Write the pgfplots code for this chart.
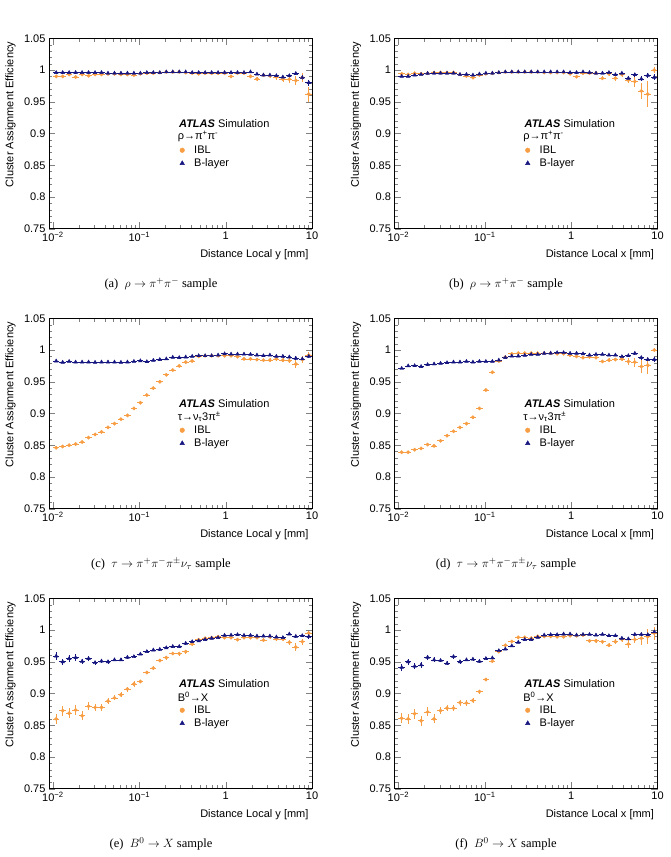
\documentclass[border=0pt]{standalone}
\usepackage{pgfplots}
\pgfplotsset{compat=1.18}
\usepackage{pgfplotstable}
\usepackage{fontspec}
\setmainfont{Liberation Serif}
\setsansfont{Liberation Sans}
\newcommand\axfont{\sffamily\fontsize{11}{13}\selectfont}
\definecolor{iblc}{RGB}{247,158,68}
\definecolor{blayc}{RGB}{22,22,128}

\pgfplotstableread{
x a ea b eb
0.01090 0.990 0.002 0.996 0.0012
0.01296 0.990 0.002 0.996 0.0012
0.01540 0.993 0.002 0.996 0.0012
0.01830 0.989 0.002 0.996 0.0012
0.02175 0.993 0.0015 0.996 0.0012
0.02585 0.991 0.0015 0.996 0.0012
0.03073 0.993 0.0015 0.996 0.0012
0.03652 0.993 0.0015 0.996 0.0012
0.04340 0.994 0.0015 0.995 0.0012
0.05158 0.994 0.0015 0.995 0.0012
0.06131 0.993 0.0015 0.995 0.0012
0.07286 0.993 0.0015 0.995 0.0012
0.08660 0.992 0.0015 0.995 0.0012
0.1029 0.994 0.0015 0.995 0.0012
0.1223 0.995 0.0015 0.996 0.0012
0.1454 0.995 0.0015 0.996 0.0012
0.1728 0.996 0.0015 0.996 0.0012
0.2054 0.997 0.0015 0.997 0.0012
0.2441 0.997 0.0015 0.997 0.0012
0.2901 0.997 0.0015 0.997 0.0012
0.3448 0.996 0.0015 0.997 0.0012
0.4097 0.995 0.0015 0.996 0.0012
0.4870 0.994 0.0015 0.996 0.0012
0.5788 0.995 0.0015 0.996 0.0012
0.6879 0.995 0.0015 0.996 0.0012
0.8176 0.995 0.0015 0.996 0.0012
0.9716 0.995 0.0015 0.996 0.0012
1.155 0.990 0.002 0.996 0.0012
1.372 0.995 0.002 0.996 0.0012
1.631 0.995 0.002 0.996 0.0012
1.939 0.990 0.002 0.997 0.0015
2.304 0.986 0.003 0.9935 0.0015
2.738 0.992 0.003 0.992 0.0015
3.254 0.991 0.003 0.992 0.002
3.868 0.989 0.004 0.991 0.002
4.597 0.9856 0.005 0.989 0.002
5.463 0.9856 0.006 0.991 0.003
6.494 0.9835 0.007 0.9945 0.003
7.718 0.988 0.007 0.988 0.004
9.173 0.962 0.012 0.980 0.005
}\tA

\pgfplotstableread{
x a ea b eb
0.01090 0.994 0.002 0.990 0.0015
0.01296 0.993 0.002 0.990 0.0015
0.01540 0.995 0.002 0.992 0.0012
0.01830 0.994 0.0015 0.993 0.0012
0.02175 0.995 0.0015 0.9947 0.0012
0.02585 0.996 0.0015 0.995 0.0012
0.03073 0.996 0.0015 0.995 0.0012
0.03652 0.996 0.0015 0.995 0.0012
0.04340 0.996 0.0015 0.995 0.0012
0.05158 0.993 0.0015 0.993 0.0012
0.06131 0.9905 0.0015 0.993 0.0012
0.07286 0.988 0.0015 0.992 0.0012
0.08660 0.992 0.0015 0.9937 0.0012
0.1029 0.994 0.0015 0.995 0.0012
0.1223 0.995 0.0015 0.995 0.0012
0.1454 0.996 0.0015 0.996 0.0012
0.1728 0.997 0.0015 0.997 0.0012
0.2054 0.997 0.0015 0.997 0.0012
0.2441 0.997 0.0015 0.997 0.0012
0.2901 0.997 0.0015 0.997 0.0012
0.3448 0.997 0.0015 0.997 0.0012
0.4097 0.997 0.0015 0.997 0.0012
0.4870 0.996 0.0015 0.997 0.0012
0.5788 0.996 0.0015 0.997 0.0012
0.6879 0.996 0.0015 0.997 0.0012
0.8176 0.996 0.0015 0.997 0.0012
0.9716 0.994 0.0015 0.996 0.0012
1.155 0.9895 0.002 0.996 0.0012
1.372 0.995 0.002 0.997 0.0012
1.631 0.995 0.002 0.996 0.0012
1.939 0.995 0.002 0.995 0.0015
2.304 0.987 0.003 0.995 0.0015
2.738 0.994 0.003 0.996 0.0015
3.254 0.987 0.004 0.9926 0.002
3.868 0.993 0.004 0.995 0.002
4.597 0.984 0.005 0.987 0.003
5.463 0.982 0.008 0.9926 0.003
6.494 0.967 0.012 0.986 0.004
7.718 0.962 0.020 0.9916 0.004
9.173 1.000 0.004 0.9885 0.005
}\tB

\pgfplotstableread{
x a ea b eb
0.01090 0.846 0.002 0.9827 0.0012
0.01296 0.848 0.002 0.9806 0.0012
0.01540 0.850 0.002 0.982 0.0012
0.01830 0.852 0.002 0.981 0.0012
0.02175 0.855 0.002 0.981 0.0012
0.02585 0.862 0.002 0.981 0.0012
0.03073 0.867 0.002 0.9806 0.0012
0.03652 0.871 0.002 0.981 0.0012
0.04340 0.878 0.002 0.981 0.0012
0.05158 0.884 0.002 0.981 0.0012
0.06131 0.891 0.002 0.9806 0.0012
0.07286 0.897 0.002 0.981 0.0012
0.08660 0.908 0.002 0.982 0.0012
0.1029 0.917 0.002 0.983 0.0012
0.1223 0.929 0.002 0.9816 0.0012
0.1454 0.940 0.002 0.9837 0.0012
0.1728 0.950 0.002 0.985 0.0012
0.2054 0.961 0.002 0.986 0.0012
0.2441 0.9685 0.002 0.9885 0.0012
0.2901 0.975 0.002 0.988 0.0012
0.3448 0.981 0.002 0.989 0.0012
0.4097 0.9827 0.002 0.990 0.0012
0.4870 0.990 0.0015 0.991 0.0012
0.5788 0.991 0.0015 0.991 0.0012
0.6879 0.991 0.0015 0.991 0.0012
0.8176 0.991 0.0015 0.992 0.0012
0.9716 0.991 0.0015 0.994 0.0012
1.155 0.991 0.0015 0.9935 0.0012
1.372 0.9895 0.002 0.9935 0.0012
1.631 0.986 0.002 0.9935 0.0012
1.939 0.986 0.002 0.993 0.0012
2.304 0.985 0.002 0.992 0.0015
2.738 0.984 0.002 0.991 0.0015
3.254 0.984 0.003 0.992 0.0015
3.868 0.986 0.003 0.990 0.002
4.597 0.984 0.003 0.990 0.002
5.463 0.983 0.004 0.989 0.002
6.494 0.978 0.006 0.987 0.003
7.718 0.985 0.006 0.986 0.003
9.173 0.992 0.005 0.990 0.003
}\tC

\pgfplotstableread{
x a ea b eb
0.01090 0.839 0.002 0.971 0.0015
0.01296 0.839 0.002 0.975 0.0015
0.01540 0.843 0.002 0.9753 0.0012
0.01830 0.845 0.002 0.974 0.0012
0.02175 0.851 0.002 0.977 0.0012
0.02585 0.849 0.002 0.978 0.0012
0.03073 0.857 0.002 0.979 0.0012
0.03652 0.865 0.002 0.980 0.0012
0.04340 0.872 0.002 0.981 0.0012
0.05158 0.878 0.002 0.981 0.0012
0.06131 0.884 0.002 0.982 0.0012
0.07286 0.894 0.002 0.981 0.0012
0.08660 0.908 0.002 0.982 0.0012
0.1029 0.937 0.002 0.982 0.0012
0.1223 0.965 0.002 0.982 0.0012
0.1454 0.9827 0.002 0.984 0.0012
0.1728 0.989 0.0015 0.988 0.0012
0.2054 0.994 0.0015 0.9905 0.0012
0.2441 0.995 0.0015 0.9905 0.0012
0.2901 0.995 0.0015 0.9916 0.0012
0.3448 0.995 0.0015 0.993 0.0012
0.4097 0.995 0.0015 0.993 0.0012
0.4870 0.995 0.0015 0.9948 0.0012
0.5788 0.995 0.0015 0.995 0.0012
0.6879 0.994 0.0015 0.9958 0.0012
0.8176 0.994 0.0015 0.9958 0.0012
0.9716 0.992 0.0015 0.9948 0.0012
1.155 0.990 0.002 0.9948 0.0012
1.372 0.988 0.002 0.994 0.0012
1.631 0.989 0.002 0.992 0.0012
1.939 0.988 0.002 0.993 0.0015
2.304 0.982 0.002 0.993 0.0015
2.738 0.984 0.003 0.992 0.0015
3.254 0.985 0.003 0.992 0.0015
3.868 0.986 0.003 0.9895 0.002
4.597 0.982 0.005 0.991 0.002
5.463 0.981 0.007 0.9948 0.002
6.494 0.974 0.010 0.988 0.003
7.718 0.976 0.013 0.985 0.003
9.173 1.000 0.003 0.985 0.004
}\tD

\pgfplotstableread{
x a ea b eb
0.01090 0.860 0.008 0.959 0.006
0.01296 0.873 0.008 0.950 0.005
0.01540 0.869 0.008 0.955 0.005
0.01830 0.874 0.008 0.9565 0.005
0.02175 0.865 0.007 0.9506 0.004
0.02585 0.880 0.006 0.955 0.004
0.03073 0.878 0.006 0.9486 0.003
0.03652 0.878 0.005 0.951 0.003
0.04340 0.888 0.005 0.950 0.003
0.05158 0.893 0.004 0.953 0.0025
0.06131 0.898 0.004 0.953 0.0025
0.07286 0.907 0.004 0.957 0.0025
0.08660 0.915 0.004 0.958 0.002
0.1029 0.919 0.003 0.962 0.002
0.1223 0.933 0.003 0.966 0.002
0.1454 0.940 0.003 0.9685 0.002
0.1728 0.952 0.003 0.9695 0.002
0.2054 0.9565 0.003 0.972 0.002
0.2441 0.963 0.003 0.974 0.002
0.2901 0.9627 0.003 0.974 0.002
0.3448 0.966 0.003 0.979 0.002
0.4097 0.978 0.003 0.9816 0.002
0.4870 0.9848 0.002 0.983 0.0015
0.5788 0.987 0.002 0.985 0.0015
0.6879 0.988 0.002 0.987 0.0015
0.8176 0.9895 0.002 0.988 0.0015
0.9716 0.988 0.002 0.9916 0.0015
1.155 0.988 0.002 0.992 0.0015
1.372 0.985 0.002 0.9926 0.0015
1.631 0.988 0.002 0.9916 0.0015
1.939 0.988 0.002 0.9916 0.0015
2.304 0.988 0.002 0.9905 0.0015
2.738 0.984 0.003 0.9905 0.0015
3.254 0.9895 0.003 0.9905 0.0015
3.868 0.986 0.003 0.989 0.002
4.597 0.986 0.003 0.988 0.002
5.463 0.9806 0.004 0.9937 0.002
6.494 0.973 0.006 0.990 0.002
7.718 0.9816 0.005 0.991 0.002
9.173 0.995 0.004 0.9895 0.003
}\tE

\pgfplotstableread{
x a ea b eb
0.01090 0.861 0.008 0.941 0.006
0.01296 0.860 0.008 0.950 0.005
0.01540 0.868 0.008 0.943 0.005
0.01830 0.857 0.008 0.945 0.005
0.02175 0.871 0.007 0.957 0.004
0.02585 0.860 0.007 0.953 0.004
0.03073 0.873 0.006 0.952 0.003
0.03652 0.877 0.005 0.9475 0.003
0.04340 0.877 0.005 0.958 0.003
0.05158 0.8855 0.005 0.950 0.003
0.06131 0.885 0.004 0.953 0.0025
0.07286 0.889 0.004 0.954 0.0025
0.08660 0.903 0.003 0.9506 0.0025
0.1029 0.922 0.003 0.955 0.002
0.1223 0.951 0.003 0.956 0.002
0.1454 0.966 0.002 0.9675 0.002
0.1728 0.976 0.002 0.970 0.002
0.2054 0.982 0.002 0.975 0.002
0.2441 0.9885 0.002 0.9806 0.0015
0.2901 0.9885 0.002 0.985 0.0015
0.3448 0.9874 0.002 0.985 0.0015
0.4097 0.990 0.002 0.9885 0.0015
0.4870 0.990 0.002 0.992 0.0015
0.5788 0.990 0.002 0.9926 0.0015
0.6879 0.9895 0.002 0.9926 0.0015
0.8176 0.9895 0.002 0.9937 0.0015
0.9716 0.991 0.002 0.9937 0.0015
1.155 0.991 0.002 0.992 0.0015
1.372 0.992 0.002 0.993 0.0015
1.631 0.983 0.002 0.993 0.0015
1.939 0.983 0.003 0.992 0.0015
2.304 0.9816 0.003 0.993 0.0015
2.738 0.976 0.003 0.991 0.0015
3.254 0.9816 0.004 0.991 0.002
3.868 0.985 0.004 0.987 0.002
4.597 0.978 0.006 0.986 0.002
5.463 0.985 0.006 0.993 0.002
6.494 0.987 0.010 0.993 0.003
7.718 0.9895 0.012 0.9926 0.003
9.173 0.995 0.010 0.997 0.003
}\tF

% #1 = x of south west, #2 = y of south west, #3 = x label, #4 = table, #5 = process
\newcommand\atlaspanel[5]{%
\begin{axis}[
    at={(#1,#2)}, anchor=south west,
    scale only axis, width=263pt, height=190.4pt,
    xmode=log, xmin=0.009, xmax=10, ymin=0.75, ymax=1.05,
    xtick={0.01,0.1,1,10},
    xticklabels={10\textsuperscript{−2},10\textsuperscript{−1},1,10},
    ytick={0.75,0.8,0.85,0.9,0.95,1,1.05},
    yticklabels={0.75,0.8,0.85,0.9,0.95,1,1.05},
    minor y tick num=4,
    tick align=inside, major tick length=6.5pt, minor tick length=3.3pt,
    axis line style={line width=0.7pt},
    tick label style={font=\axfont},
    label style={font=\axfont},
    xlabel={#3},
    ylabel={Cluster Assignment Efficiency},
    y label style={at={(axis description cs:-0.146,1)}, anchor=east},
    x label style={at={(axis description cs:1,-0.138)}, anchor=east},
    legend cell align=left,
    legend image code/.code={\draw[##1] plot coordinates {(0.25cm,0cm)}; \path (0cm,0cm) (0.45cm,0cm);},
    legend style={at={(axis description cs:0.478,0.44)}, anchor=north west,
      draw=none, fill=none, font=\axfont, row sep=2.6pt, inner sep=0pt,
      nodes={inner sep=0.6pt},
      /tikz/every odd column/.append style={column sep=5.5pt}},
  ]
  \addplot[only marks, mark=*, mark size=1.7pt, color=iblc, forget plot,
    error bars/.cd, x dir=both, x fixed relative=0.086, y dir=both, y explicit,
    error mark=none, error bar style={line width=0.7pt, color=iblc}]
    table[x=x, y=a, y error=ea] {#4};
  \addplot[only marks, mark=triangle*, mark size=2.1pt, color=blayc, forget plot,
    error bars/.cd, x dir=both, x fixed relative=0.086, y dir=both, y explicit,
    error mark=none, error bar style={line width=0.7pt, color=blayc}]
    table[x=x, y=b, y error=eb] {#4};
  \addlegendimage{only marks, mark=*, mark size=2.3pt, color=iblc}
  \addlegendentry{IBL}
  \addlegendimage{only marks, mark=triangle*, mark size=2.6pt, color=blayc}
  \addlegendentry{B-layer}
  \node[anchor=west, inner sep=0pt, font=\axfont] at (axis description cs:0.494,0.55) {\textbf{\textit{ATLAS}} Simulation};
  \node[anchor=west, inner sep=0pt, font=\axfont] at (axis description cs:0.489,0.483) {#5};
\end{axis}}

\begin{document}
\begin{tikzpicture}
\path[use as bounding box] (0pt,0pt) rectangle (670pt,857pt);

\atlaspanel{49pt}{628.3pt}{Distance Local y [mm]}{\tA}{ρ→π\textsuperscript{+}π\textsuperscript{-}}
\atlaspanel{394.5pt}{628.3pt}{Distance Local x [mm]}{\tB}{ρ→π\textsuperscript{+}π\textsuperscript{-}}
\atlaspanel{49pt}{348.3pt}{Distance Local y [mm]}{\tC}{τ→ν\textsubscript{τ}3π\textsuperscript{±}}
\atlaspanel{394.5pt}{348.3pt}{Distance Local x [mm]}{\tD}{τ→ν\textsubscript{τ}3π\textsuperscript{±}}
\atlaspanel{49pt}{68.3pt}{Distance Local y [mm]}{\tE}{B\textsuperscript{0}→X}
\atlaspanel{394.5pt}{68.3pt}{Distance Local x [mm]}{\tF}{B\textsuperscript{0}→X}

\node[font=\fontsize{12.5}{15}\selectfont] at (161pt,573pt) {(a)\ \ $\rho\to\pi^{+}\pi^{-}$ sample};
\node[font=\fontsize{12.5}{15}\selectfont] at (506pt,573pt) {(b)\ \ $\rho\to\pi^{+}\pi^{-}$ sample};
\node[font=\fontsize{12.5}{15}\selectfont] at (161pt,293pt) {(c)\ \ $\tau\to\pi^{+}\pi^{-}\pi^{\pm}\nu_{\tau}$ sample};
\node[font=\fontsize{12.5}{15}\selectfont] at (506pt,293pt) {(d)\ \ $\tau\to\pi^{+}\pi^{-}\pi^{\pm}\nu_{\tau}$ sample};
\node[font=\fontsize{12.5}{15}\selectfont] at (161pt,13pt) {(e)\ \ $B^{0}\to X$ sample};
\node[font=\fontsize{12.5}{15}\selectfont] at (506pt,13pt) {(f)\ \ $B^{0}\to X$ sample};
\end{tikzpicture}
\end{document}
